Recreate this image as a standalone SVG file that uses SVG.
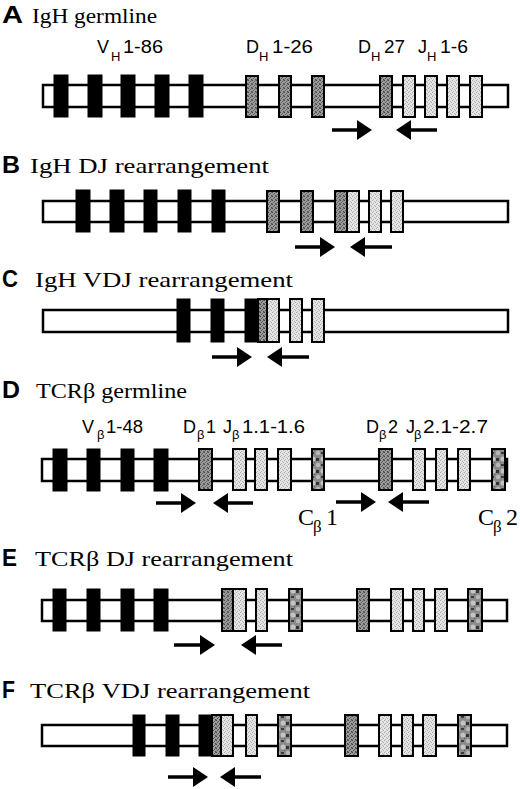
<svg xmlns="http://www.w3.org/2000/svg" width="520" height="789" viewBox="0 0 520 789">
<defs>
<pattern id="pd" width="4" height="4" patternUnits="userSpaceOnUse"><rect width="4" height="4" fill="#9c9c9c"/><rect x="0" y="0" width="1" height="1" fill="#444"/><rect x="2" y="1" width="1" height="1" fill="#555"/><rect x="1" y="2" width="1" height="1" fill="#5a5a5a"/><rect x="3" y="3" width="1" height="1" fill="#4a4a4a"/><rect x="3" y="0" width="1" height="1" fill="#666"/><rect x="0" y="3" width="1" height="1" fill="#777"/></pattern>
<pattern id="pl" width="4" height="4" patternUnits="userSpaceOnUse"><rect width="4" height="4" fill="#e4e4e4"/><rect x="0" y="0" width="1" height="1" fill="#a8a8a8"/><rect x="2" y="1" width="1" height="1" fill="#b0b0b0"/><rect x="1" y="3" width="1" height="1" fill="#b8b8b8"/><rect x="3" y="2" width="1" height="1" fill="#aaa"/></pattern>
<pattern id="pm" width="10" height="12" patternUnits="userSpaceOnUse"><rect width="10" height="12" fill="#8a8a8a"/><circle cx="3" cy="3" r="2.5" fill="#c4c4c4"/><circle cx="8" cy="9" r="2.2" fill="#b8b8b8"/><rect x="6" y="2" width="3" height="3" fill="#333"/><rect x="1" y="8" width="3" height="2" fill="#3a3a3a"/><rect x="4" y="6" width="1" height="1" fill="#555"/></pattern>
<marker id="ah" viewBox="0 0 15 20" refX="5" refY="10" markerWidth="15" markerHeight="20" markerUnits="userSpaceOnUse" orient="auto"><path d="M0,0 L15,10 L0,20 z" fill="#000"/></marker>
</defs>
<style>
.bar{fill:#fff;stroke:#000;stroke-width:2.5}
.k{fill:#000;stroke:#000;stroke-width:1}
.d{fill:url(#pd);stroke:#000;stroke-width:2}
.l{fill:url(#pl);stroke:#000;stroke-width:2}
.m{fill:url(#pm);stroke:#000;stroke-width:2}
.ltr{font-family:"Liberation Sans",Arial,sans-serif;font-weight:bold;font-size:24px;fill:#000}
.ttl{font-family:"Liberation Serif","Times New Roman",serif;font-size:22px;fill:#000}
.lb{font-family:"Liberation Sans",Arial,sans-serif;font-size:18px;fill:#000}
.sb{font-family:"Liberation Sans",Arial,sans-serif;font-size:13px;fill:#000}
.cs{font-family:"Liberation Serif","Times New Roman",serif;font-size:24px;fill:#000}
.css{font-family:"Liberation Serif","Times New Roman",serif;font-size:17px;fill:#000}
.arr{stroke:#000;stroke-width:3.5;fill:none;marker-end:url(#ah)}
</style>
<rect width="520" height="789" fill="#fff"/>

<g id="panelA">
<text class="ltr" x="2" y="23" textLength="21" lengthAdjust="spacingAndGlyphs">A</text>
<text class="ttl" x="32" y="23" textLength="125" lengthAdjust="spacingAndGlyphs">IgH germline</text>
<g id="labelA">
<text class="lb" x="97" y="53">V</text><text class="sb" x="111" y="61">H</text><text class="lb" x="123" y="53" textLength="40" lengthAdjust="spacingAndGlyphs">1-86</text>
<text class="lb" x="246" y="53">D</text><text class="sb" x="259" y="61">H</text><text class="lb" x="272" y="53" textLength="41" lengthAdjust="spacingAndGlyphs">1-26</text>
<text class="lb" x="358" y="53">D</text><text class="sb" x="371" y="61">H</text><text class="lb" x="384" y="53" textLength="21" lengthAdjust="spacingAndGlyphs">27</text>
<text class="lb" x="418" y="53">J</text><text class="sb" x="427" y="61">H</text><text class="lb" x="440" y="53" textLength="28" lengthAdjust="spacingAndGlyphs">1-6</text>
</g>
<rect class="bar" x="43" y="85" width="465" height="22"/>
<rect class="k" x="54" y="75" width="14" height="42"/><rect class="k" x="88" y="75" width="14" height="42"/><rect class="k" x="121" y="75" width="14" height="42"/><rect class="k" x="155" y="75" width="14" height="42"/><rect class="k" x="189" y="75" width="14" height="42"/>
<rect class="d" x="246" y="76" width="12" height="41"/><rect class="d" x="279" y="76" width="12" height="41"/><rect class="d" x="312" y="76" width="12" height="41"/><rect class="d" x="380" y="76" width="12" height="41"/>
<rect class="l" x="403" y="76" width="12" height="41"/><rect class="l" x="425" y="76" width="12" height="41"/><rect class="l" x="447" y="76" width="12" height="41"/><rect class="l" x="470" y="76" width="12" height="41"/>
</g>

<g id="panelB">
<text class="ltr" x="2" y="173" textLength="18" lengthAdjust="spacingAndGlyphs">B</text>
<text class="ttl" x="30" y="173" textLength="239" lengthAdjust="spacingAndGlyphs">IgH DJ rearrangement</text>
<rect class="bar" x="43" y="201" width="465" height="21"/>
<rect class="k" x="76" y="190" width="14" height="42"/><rect class="k" x="110" y="190" width="14" height="42"/><rect class="k" x="144" y="190" width="13" height="42"/><rect class="k" x="178" y="190" width="13" height="42"/><rect class="k" x="212" y="190" width="13" height="42"/>
<rect class="d" x="267" y="191" width="12" height="41"/><rect class="d" x="301" y="191" width="12" height="41"/><rect class="d" x="335" y="191" width="12" height="41"/>
<rect class="l" x="347" y="191" width="12" height="41"/><rect class="l" x="369" y="191" width="12" height="41"/><rect class="l" x="391" y="191" width="12" height="41"/>
</g>

<g id="panelC">
<text class="ltr" x="2" y="287" textLength="16" lengthAdjust="spacingAndGlyphs">C</text>
<text class="ttl" x="35" y="287" textLength="258" lengthAdjust="spacingAndGlyphs">IgH VDJ rearrangement</text>
<rect class="bar" x="43" y="310" width="465" height="22"/>
<rect class="k" x="177" y="299" width="13" height="43"/><rect class="k" x="211" y="299" width="13" height="43"/><rect class="k" x="245" y="299" width="13" height="43"/>
<rect class="d" x="258" y="299" width="9" height="43"/>
<rect class="l" x="267" y="299" width="12" height="43"/><rect class="l" x="290" y="299" width="12" height="43"/><rect class="l" x="312" y="299" width="12" height="43"/>
</g>

<g id="panelD">
<text class="ltr" x="2" y="398" textLength="18" lengthAdjust="spacingAndGlyphs">D</text>
<text class="ttl" x="36" y="398" textLength="151" lengthAdjust="spacingAndGlyphs">TCRβ germline</text>
<g id="labelD">
<text class="lb" x="82" y="433">V</text><text class="sb" x="97" y="439">β</text><text class="lb" x="106" y="433" textLength="37" lengthAdjust="spacingAndGlyphs">1-48</text>
<text class="lb" x="183" y="433">D</text><text class="sb" x="197" y="439">β</text><text class="lb" x="206" y="433">1</text>
<text class="lb" x="223" y="433">J</text><text class="sb" x="232" y="439">β</text><text class="lb" x="242" y="433" textLength="63" lengthAdjust="spacingAndGlyphs">1.1-1.6</text>
<text class="lb" x="366" y="433">D</text><text class="sb" x="379" y="439">β</text><text class="lb" x="388" y="433">2</text>
<text class="lb" x="406" y="433">J</text><text class="sb" x="414" y="439">β</text><text class="lb" x="423" y="433" textLength="65" lengthAdjust="spacingAndGlyphs">2.1-2.7</text>
</g>
<rect class="bar" x="42" y="459" width="465" height="22"/>
<rect class="k" x="53" y="449" width="14" height="42"/><rect class="k" x="87" y="449" width="13" height="42"/><rect class="k" x="121" y="449" width="13" height="42"/><rect class="k" x="154" y="449" width="14" height="42"/>
<rect class="d" x="199" y="449" width="13" height="41"/>
<rect class="l" x="233" y="449" width="13" height="41"/><rect class="l" x="255" y="449" width="12" height="41"/><rect class="l" x="278" y="449" width="13" height="41"/>
<rect class="m" x="312" y="449" width="12" height="41"/>
<rect class="d" x="379" y="449" width="13" height="41"/>
<rect class="l" x="413" y="449" width="12" height="41"/><rect class="l" x="436" y="449" width="11" height="41"/><rect class="l" x="458" y="449" width="12" height="41"/>
<rect class="m" x="492" y="449" width="13" height="41"/><rect x="505" y="459" width="3" height="22" fill="#000"/>
<text class="cs" x="298" y="525">C</text><text class="css" x="313" y="532">β</text><text class="cs" x="326" y="525">1</text>
<text class="cs" x="478" y="525">C</text><text class="css" x="493" y="532">β</text><text class="cs" x="506" y="525">2</text>
</g>

<g id="panelE">
<text class="ltr" x="2" y="566" textLength="15" lengthAdjust="spacingAndGlyphs">E</text>
<text class="ttl" x="35" y="566" textLength="258" lengthAdjust="spacingAndGlyphs">TCRβ DJ rearrangement</text>
<rect class="bar" x="42" y="600" width="465" height="21"/>
<rect class="k" x="53" y="589" width="13" height="42"/><rect class="k" x="87" y="589" width="13" height="42"/><rect class="k" x="121" y="589" width="13" height="42"/><rect class="k" x="154" y="589" width="14" height="42"/>
<rect class="d" x="222" y="589" width="11" height="42"/><rect class="l" x="233" y="589" width="13" height="42"/>
<rect class="l" x="256" y="589" width="11" height="42"/>
<rect class="m" x="289" y="589" width="13" height="42"/>
<rect class="d" x="357" y="589" width="12" height="42"/>
<rect class="l" x="391" y="589" width="12" height="42"/><rect class="l" x="413" y="589" width="11" height="42"/><rect class="l" x="435" y="589" width="12" height="42"/>
<rect class="m" x="468" y="589" width="14" height="42"/>
</g>

<g id="panelF">
<text class="ltr" x="2" y="698" textLength="13" lengthAdjust="spacingAndGlyphs">F</text>
<text class="ttl" x="30" y="698" textLength="280" lengthAdjust="spacingAndGlyphs">TCRβ VDJ rearrangement</text>
<rect class="bar" x="42" y="725" width="465" height="21"/>
<rect class="k" x="133" y="715" width="12" height="41"/><rect class="k" x="166" y="715" width="13" height="41"/><rect class="k" x="199" y="715" width="13" height="41"/>
<rect class="d" x="212" y="715" width="9" height="41"/><rect class="l" x="221" y="715" width="12" height="41"/>
<rect class="l" x="246" y="715" width="11" height="41"/>
<rect class="m" x="278" y="715" width="13" height="41"/>
<rect class="d" x="345" y="715" width="13" height="41"/>
<rect class="l" x="379" y="715" width="12" height="41"/><rect class="l" x="402" y="715" width="11" height="41"/><rect class="l" x="423" y="715" width="13" height="41"/>
<rect class="m" x="458" y="715" width="13" height="41"/>
</g>

<g id="connectors">
<path class="arr" d="M332,130 H362"/><path class="arr" d="M437,130 H406"/>
<path class="arr" d="M295,247 H325"/><path class="arr" d="M392,247 H360"/>
<path class="arr" d="M212,357 H242"/><path class="arr" d="M309,357 H277"/>
<path class="arr" d="M156,503 H186"/><path class="arr" d="M253,503 H223"/>
<path class="arr" d="M336,502 H366"/><path class="arr" d="M429,502 H398"/>
<path class="arr" d="M174,645 H205"/><path class="arr" d="M282,645 H251"/>
<path class="arr" d="M168,777 H198"/><path class="arr" d="M261,777 H230"/>
</g>
</svg>
